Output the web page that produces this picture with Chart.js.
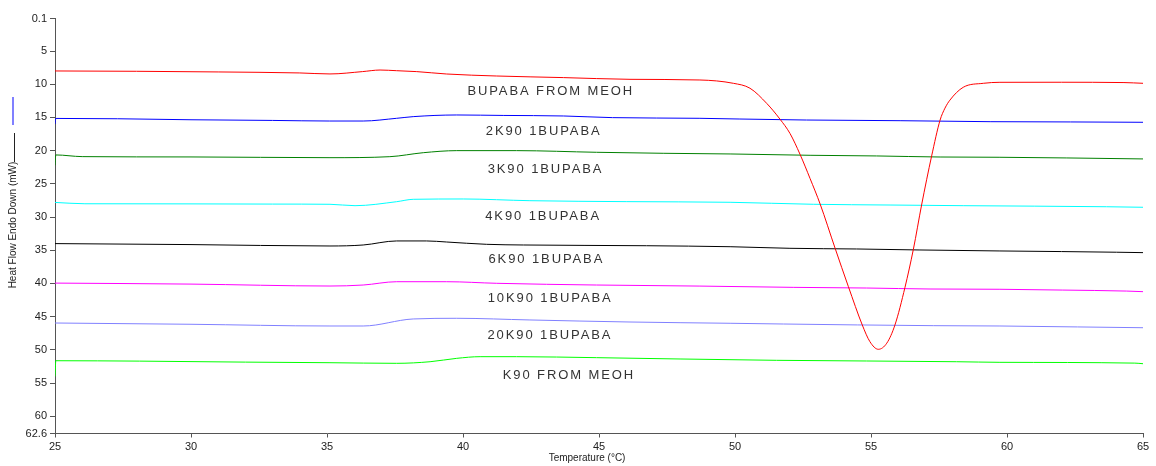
<!DOCTYPE html>
<html>
<head>
<meta charset="utf-8">
<script src="https://cdn.jsdelivr.net/npm/chart.js@4/dist/chart.umd.min.js"></script>
<style>
  html, body { margin: 0; padding: 0; background: #ffffff; }
  #wrap { width: 1156px; height: 466px; position: relative; }
</style>
</head>
<body>
<div id="wrap"><canvas id="c" width="1156" height="466"></canvas></div>
<script>
// ---------- data ----------
const seriesNames = ["BUPABA FROM MEOH", "2K90 1BUPABA", "3K90 1BUPABA", "4K90 1BUPABA",
                     "6K90 1BUPABA", "10K90 1BUPABA", "20K90 1BUPABA", "K90 FROM MEOH"];

const tBupaba = [25, 28, 31, 34, 35.11, 36.3, 36.95, 37.56, 38.3, 39.4, 41.24, 43.69, 46.14, 48.71, 49.94, 50.55, 51.17, 51.65, 52.02, 52.39, 52.76, 53.13, 53.68, 54.17, 54.68, 54.96, 55.27, 55.58, 55.88, 56.25, 56.56, 56.86, 57.23, 57.54, 57.72, 57.9, 58.39, 59.13, 59.74, 62, 64.3, 65];
const hBupaba = [8.0, 8.05, 8.15, 8.3, 8.45, 8.1, 7.86, 7.96, 8.1, 8.46, 8.76, 9.0, 9.26, 9.36, 9.86, 10.6, 12.9, 15.24, 17.4, 20.55, 24.2, 28.04, 34.7, 40.5, 46.26, 48.77, 49.92, 49.0, 46.26, 40.58, 34.81, 28.19, 20.8, 15.4, 13.6, 12.4, 10.46, 9.86, 9.71, 9.7, 9.75, 9.86];

const t2K90 = [25, 25.03, 27.3, 30, 33, 35.1, 36.33, 37.56, 38.17, 39.77, 41.5, 43.69, 45.5, 48.71, 50.18, 52.63, 56.07, 59.38, 62.34, 65];
const h2K90 = [16.0, 15.15, 15.2, 15.35, 15.45, 15.54, 15.54, 15.13, 14.88, 14.63, 14.7, 14.78, 15.03, 15.13, 15.24, 15.39, 15.49, 15.64, 15.68, 15.73];

const t3K90 = [25, 25.03, 26, 30, 35.11, 37.31, 38.54, 39.77, 41.97, 44.91, 47.36, 49.82, 52.76, 55.2, 57.54, 59.74, 62.2, 65];
const h3K90 = [22.2, 20.65, 20.9, 20.95, 21.06, 20.91, 20.31, 20.0, 20.0, 20.25, 20.4, 20.5, 20.7, 20.8, 20.96, 21.0, 21.1, 21.25];

const t4K90 = [25, 26.1, 30, 33, 35.11, 36.03, 37.56, 38.17, 40.01, 42.46, 46, 49.82, 52.88, 55.7, 58.39, 61, 63.66, 65];
const h4K90 = [27.8, 28.0, 28.02, 28.05, 28.08, 28.29, 27.69, 27.33, 27.28, 27.54, 27.68, 27.78, 28.08, 28.19, 28.29, 28.36, 28.45, 28.53];

const t6K90 = [25, 30, 35.11, 36.33, 37.56, 38.66, 39.4, 40.87, 42.22, 46.75, 49.82, 52.02, 54.47, 56.8, 59.74, 62, 64.03, 65];
const h6K90 = [34.0, 34.15, 34.36, 34.21, 33.6, 33.6, 33.76, 34.11, 34.21, 34.32, 34.47, 34.71, 34.81, 34.96, 35.11, 35.2, 35.3, 35.36];

const t10K90 = [25, 30, 35.11, 36.33, 37.56, 39.4, 41.24, 44.91, 48.71, 52.14, 54.84, 57.17, 59.74, 62.05, 64.4, 65];
const h10K90 = [39.95, 40.1, 40.39, 40.24, 39.74, 39.74, 39.98, 40.24, 40.4, 40.59, 40.69, 40.84, 40.88, 41.0, 41.15, 41.24];

const t20K90 = [25, 30, 35.11, 36.33, 38.17, 39.77, 42.46, 46.14, 49.82, 51.78, 54.5, 57.29, 59.74, 62.59, 65];
const h20K90 = [45.96, 46.15, 46.41, 46.41, 45.35, 45.25, 45.5, 45.81, 46.0, 46.11, 46.25, 46.36, 46.41, 46.55, 46.67];

const tK90 = [25, 25.03, 28.1, 32, 35.11, 37.56, 38.79, 39.77, 40.63, 41.97, 44.91, 47.98, 51.53, 54.84, 58.15, 59.74, 64.7, 65];
const hK90 = [54.0, 51.64, 51.7, 51.85, 51.94, 52.03, 51.79, 51.28, 51.03, 51.03, 51.18, 51.38, 51.58, 51.68, 51.79, 51.88, 52.0, 52.09];

// label anchors in data units (temperature, heat flow)
const labelT = [43.19, 42.93, 43.0, 42.91, 43.03, 43.17, 43.16, 43.86];
const labelV = [11.02, 17.04, 22.77, 29.95, 36.36, 42.24, 47.87, 53.89];

const xTicks = [25, 30, 35, 40, 45, 50, 55, 60, 65];
const yTicks = [0.1, 5, 10, 15, 20, 25, 30, 35, 40, 45, 50, 55, 60, 62.6];

// ---------- styling ----------
const colors = ["#ff0000", "#0000ff", "#008000", "#00ffff", "#000000", "#ff00ff", "#8080ff", "#00ff00"];
const allT = [tBupaba, t2K90, t3K90, t4K90, t6K90, t10K90, t20K90, tK90];
const allH = [hBupaba, h2K90, h3K90, h4K90, h6K90, h10K90, h20K90, hK90];

const datasets = seriesNames.map((name, i) => ({
  label: name,
  data: allT[i].map((t, j) => ({ x: t, y: allH[i][j] })),
  borderColor: colors[i],
  borderWidth: 1,
  pointRadius: 0,
  fill: false,
  cubicInterpolationMode: 'monotone'
}));

const FONT = "'Liberation Sans', Arial, sans-serif";

const annotPlugin = {
  id: 'annot',
  afterDatasetsDraw(chart) {
    const ctx = chart.ctx;
    const xs = chart.scales.x, ys = chart.scales.y;
    ctx.save();
    // series labels
    ctx.font = "13px " + FONT;
    ctx.fillStyle = "#333333";
    ctx.textAlign = "center";
    ctx.textBaseline = "middle";
    const ls = 1.9;
    ctx.letterSpacing = ls + "px";
    seriesNames.forEach((n, i) => {
      ctx.fillText(n, xs.getPixelForValue(labelT[i]) + ls / 2, ys.getPixelForValue(labelV[i]));
    });
    ctx.letterSpacing = "0px";
    // x axis title
    ctx.font = "10px " + FONT;
    ctx.fillStyle = "#222222";
    ctx.textAlign = "center";
    ctx.fillText("Temperature (°C)", chart.chartArea.left + (chart.chartArea.right - chart.chartArea.left) * 0.489, 458);
    // y axis title with legend marks
    ctx.translate(13, 225);
    ctx.rotate(-Math.PI / 2);
    ctx.fillText("Heat Flow Endo Down (mW)", 0, 0);
    ctx.restore();
    ctx.save();
    ctx.strokeStyle = "#8080ff";
    ctx.lineWidth = 2;
    ctx.beginPath(); ctx.moveTo(13, 97); ctx.lineTo(13, 125); ctx.stroke();
    ctx.strokeStyle = "#222222";
    ctx.lineWidth = 1;
    ctx.beginPath(); ctx.moveTo(14.5, 133); ctx.lineTo(14.5, 162); ctx.stroke();
    ctx.restore();
  }
};

new Chart(document.getElementById('c'), {
  type: 'line',
  data: { datasets },
  options: {
    responsive: false,
    animation: false,
    parsing: true,
    layout: { padding: { left: 0, right: 13, top: 18.5, bottom: 0 } },
    plugins: { legend: { display: false }, tooltip: { enabled: false } },
    scales: {
      x: {
        type: 'linear', min: 25, max: 65,
        afterBuildTicks: s => { s.ticks = xTicks.map(v => ({ value: v })); },
        afterFit: s => { s.height = 32.5; },
        grid: { drawOnChartArea: false, drawTicks: true, tickLength: 4, color: '#555555' },
        border: { display: true, color: '#555555', width: 1 },
        ticks: { font: { family: FONT, size: 11 }, color: '#222222', padding: 3, maxRotation: 0,
                 callback: v => String(v) }
      },
      y: {
        type: 'linear', reverse: true, min: 0.1, max: 62.6,
        afterBuildTicks: s => { s.ticks = yTicks.map(v => ({ value: v })); },
        afterFit: s => { s.width = 55; },
        grid: { drawOnChartArea: false, drawTicks: true, tickLength: 5, color: '#555555' },
        border: { display: true, color: '#555555', width: 1 },
        ticks: { font: { family: FONT, size: 11 }, color: '#222222', padding: 3,
                 callback: v => String(v) }
      }
    }
  },
  plugins: [annotPlugin]
});
</script>
</body>
</html>
